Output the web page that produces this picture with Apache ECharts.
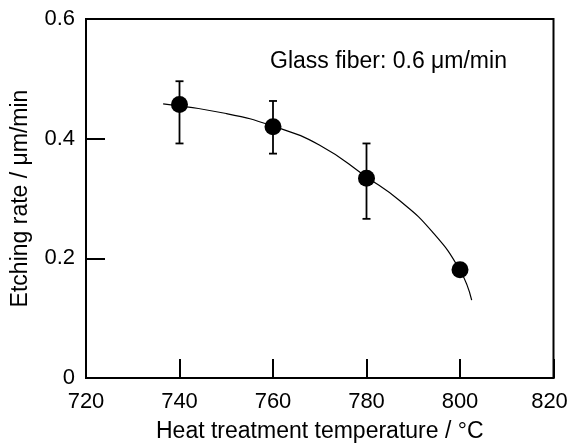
<!DOCTYPE html>
<html>
<head>
<meta charset="utf-8">
<script src="https://cdn.jsdelivr.net/npm/echarts@6/dist/echarts.min.js"></script>
<style>
  html, body { margin: 0; padding: 0; background: #fff; }
  #chart { width: 570px; height: 444px; }
</style>
</head>
<body>
<div id="chart"></div>
<script>
// measured points
const temps = [740, 760, 780, 800];
const rates = [0.457, 0.420, 0.334, 0.181];
const errLow = [0.392, 0.375, 0.266, 0.175];
const errHigh = [0.496, 0.463, 0.392, 0.187];

// fitted curve
const curveX = [736.5, 750, 760, 770, 780, 787, 794, 800, 802.5];
const curveY = [0.458, 0.442, 0.421, 0.389, 0.336, 0.297, 0.245, 0.180, 0.130];

const xTicks = [720, 740, 760, 780, 800, 820];
const yTicks = [0, 0.2, 0.4, 0.6];

const font = 'Liberation Sans, Arial, sans-serif';

const chart = echarts.init(document.getElementById('chart'));
chart.setOption({
  animation: false,
  grid: {
    left: 86, right: 16.5, top: 19, bottom: 66,
    outerBoundsMode: 'none',
    show: true, borderColor: '#000', borderWidth: 2
  },
  xAxis: {
    type: 'value',
    min: xTicks[0], max: xTicks[xTicks.length - 1], interval: 20,
    name: 'Heat treatment temperature / °C',
    nameLocation: 'middle', nameGap: 42,
    nameTextStyle: { fontFamily: font, fontSize: 23, color: '#000' },
    axisLine: { lineStyle: { color: '#000', width: 2 } },
    axisTick: { inside: true, length: 19, lineStyle: { color: '#000', width: 2 } },
    axisLabel: {
      fontFamily: font, fontSize: 22, color: '#000', margin: 13,
      // last label sits a little left so it stays inside the picture
      formatter: v => v === xTicks[xTicks.length - 1] ? '{r|' + v + '}' : String(v),
      rich: { r: { fontFamily: font, fontSize: 22, color: '#000', padding: [0, 8, 0, 0] } }
    },
    splitLine: { show: false }
  },
  yAxis: {
    type: 'value',
    min: yTicks[0], max: yTicks[yTicks.length - 1], interval: 0.2,
    name: 'Etching rate / μm/min',
    nameLocation: 'middle', nameGap: 54,
    nameTextStyle: { fontFamily: font, fontSize: 23, color: '#000' },
    axisLine: { lineStyle: { color: '#000', width: 2 } },
    axisTick: { inside: true, length: 19, lineStyle: { color: '#000', width: 2 } },
    axisLabel: {
      fontFamily: font, fontSize: 22, color: '#000', margin: 11,
      formatter: v => v === 0 ? '0' : v.toFixed(1)
    },
    splitLine: { show: false }
  },
  graphic: [{
    type: 'text', left: 270, top: 50,
    style: { text: 'Glass fiber: 0.6 μm/min', font: '23px ' + font, fill: '#000' }
  }],
  series: [
    {
      type: 'line',
      data: curveX.map((x, i) => [x, curveY[i]]),
      smooth: 0.5,
      showSymbol: false,
      lineStyle: { color: '#000', width: 1.2 },
      z: 2
    },
    {
      type: 'custom',
      data: temps.map((t, i) => [t, errLow[i], errHigh[i]]),
      renderItem: function (params, api) {
        const lo = api.coord([api.value(0), api.value(1)]);
        const hi = api.coord([api.value(0), api.value(2)]);
        const w = 4;
        const st = { stroke: '#000', lineWidth: 1.8 };
        return {
          type: 'group',
          children: [
            { type: 'line', shape: { x1: lo[0], y1: lo[1], x2: hi[0], y2: hi[1] }, style: st },
            { type: 'line', shape: { x1: lo[0] - w, y1: lo[1], x2: lo[0] + w, y2: lo[1] }, style: st },
            { type: 'line', shape: { x1: hi[0] - w, y1: hi[1], x2: hi[0] + w, y2: hi[1] }, style: st }
          ]
        };
      },
      z: 3
    },
    {
      type: 'scatter',
      data: temps.map((t, i) => [t, rates[i]]),
      symbol: 'circle',
      symbolSize: 17,
      itemStyle: { color: '#000', opacity: 1 },
      z: 4
    }
  ]
});
</script>
</body>
</html>
